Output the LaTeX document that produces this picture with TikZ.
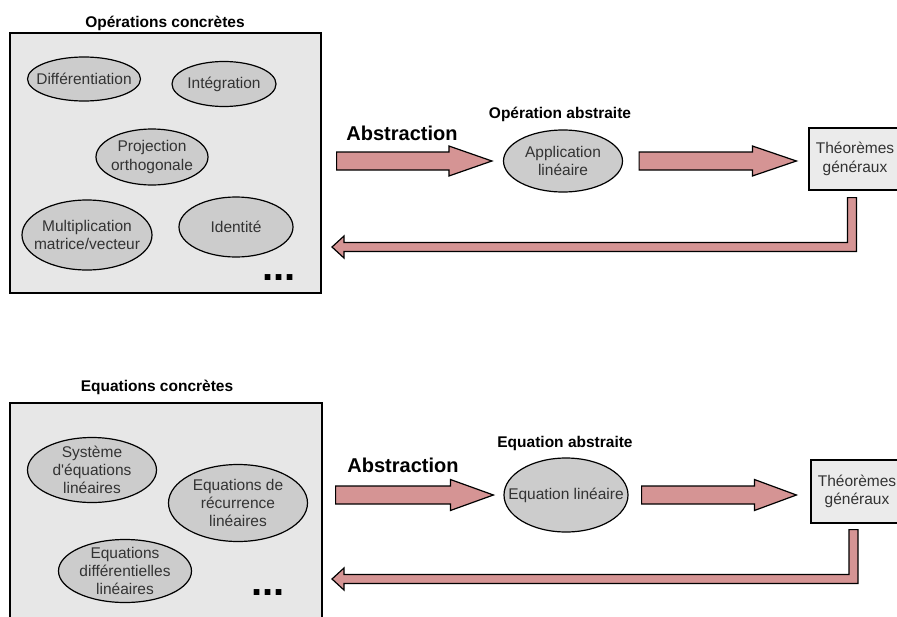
\documentclass[tikz,border=0pt]{standalone}
\usepackage{fontspec}
\setmainfont{Liberation Sans}
\usetikzlibrary{shapes.geometric,calc}

\definecolor{arrowpink}{RGB}{213,148,148}
\definecolor{panelgray}{RGB}{231,231,231}
\definecolor{ovalgray}{RGB}{204,204,204}
\definecolor{thmgray}{RGB}{235,235,235}

% straight fat arrow: start, tip, shaft half width, head half width, head length
\newcommand{\fatarrow}[5]{%
	\draw[fatline] ($(#1)+(0,#3)$) -- ($(#2)+(-#5,#3)$) -- ($(#2)+(-#5,#4)$) -- (#2)
		-- ($(#2)+(-#5,-#4)$) -- ($(#2)+(-#5,-#3)$) -- ($(#1)+(0,-#3)$) -- cycle;}
% bent return arrow: top of the vertical part, tip
\newcommand{\backarrow}[2]{%
	\draw[fatline] ($(#1)+(-4.5,0)$) -- ($(#1)+(4.5,0)$) -- ($(#1 |- #2)+(4.5,4.5)$)
		-- ($(#2)+(12,4.5)$) -- ($(#2)+(12,11)$) -- (#2) -- ($(#2)+(12,-11)$)
		-- ($(#2)+(12,-4.5)$) -- ($(#1 |- #2)+(-4.5,-4.5)$) -- cycle;}

\begin{document}
\begin{tikzpicture}[x=1pt, y=-1pt]
			\tikzstyle{panel} = [draw, line width=1.2pt, fill=panelgray, inner sep=0pt]
			\tikzstyle{oval} = [draw, ellipse, line width=1.2pt, fill=ovalgray, inner xsep=-16pt, inner ysep=-7pt, align=center, text=black!80, font=\fontsize{15.5}{18.3}\selectfont]
			\tikzstyle{thm} = [draw, line width=1.2pt, fill=thmgray, inner sep=0pt, align=center, text=black!80, font=\fontsize{15.5}{18.3}\selectfont]
			\tikzstyle{title} = [anchor=base, font=\bfseries\fontsize{15.5}{18}\selectfont]
			\tikzstyle{big} = [anchor=base, font=\bfseries\fontsize{20}{24}\selectfont]
			\tikzstyle{more} = [anchor=base, inner sep=0pt, font=\bfseries\fontsize{40}{40}\selectfont]
			\tikzstyle{fatline} = [draw, line width=1.2pt, fill=arrowpink, line join=miter]
			\useasboundingbox (0,0) rectangle (897,616);

			% operations
			\node[title] (optitle) at (165,27) {Opérations concrètes};
			\node[panel, minimum width=311, minimum height=260] (opbox) at (165.5,163) {};
			\node[oval, minimum width=113, minimum height=44] (diff) at (84,79) {Différentiation};
			\node[oval, minimum width=104, minimum height=45] (integ) at (224,84) {Intégration};
			\node[oval, minimum width=112, minimum height=56] (proj) at (152,157) {Projection\\orthogonale};
			\node[oval, minimum width=130, minimum height=70] (mult) at (87,235) {Multiplication\\matrice/vecteur};
			\node[oval, minimum width=114, minimum height=60] (ident) at (236,227) {Identité};
			\node[more] (opmore) at (279,280) {...};

			\node[big] (abs1) at (402,140) {Abstraction};
			\node[title] (apptitle) at (560,118) {Opération abstraite};
			\node[oval, minimum width=119, minimum height=62] (appl) at (563,161) {Application\\linéaire};
			\node[thm, minimum width=100, minimum height=62] (thm1) at (859,159) {\hspace*{-8pt}Théorèmes\\\hspace*{-8pt}généraux};

			\coordinate (a1s) at ($(opbox.east |- appl.center)+(15,0)$);
			\coordinate (a1t) at ($(appl.west)+(-11,0)$);
			\coordinate (a2s) at ($(appl.east)+(16,0)$);
			\coordinate (a2t) at ($(thm1.west |- appl.center)+(-12,0)$);
			\coordinate (r1top) at ($(thm1.south)+(-7,7)$);
			\coordinate (r1tip) at (332,247);
			\fatarrow{a1s}{a1t}{9}{15}{43}
			\fatarrow{a2s}{a2t}{9}{15}{44}
			\backarrow{r1top}{r1tip}

			% equations
			\node[title] (eqtitle) at (157,391) {Equations concrètes};
			\node[panel, minimum width=312, minimum height=230] (eqbox) at (166,518) {};
			\node[oval, minimum width=129, minimum height=65] (syst) at (92,470) {Système\\d\textquotesingle équations\\linéaires};
			\node[oval, minimum width=139, minimum height=77] (recur) at (238,503) {Equations de\\récurrence\\linéaires};
			\node[oval, minimum width=133, minimum height=63] (diffl) at (125,571) {Equations\\différentielles\\linéaires};
			\node[more] (eqmore) at (268,595) {...};

			\node[big] (abs2) at (403,472) {Abstraction};
			\node[title] (lintitle) at (565,447) {Equation abstraite};
			\node[oval, minimum width=124, minimum height=74] (eqlin) at (566,495) {Equation linéaire};
			\node[thm, minimum width=100, minimum height=63] (thm2) at (861,491.5) {\hspace*{-8pt}Théorèmes\\\hspace*{-8pt}généraux};

			\coordinate (b1s) at ($(eqbox.east |- eqlin.center)+(13,0)$);
			\coordinate (b1t) at ($(eqlin.west)+(-10,0)$);
			\coordinate (b2s) at ($(eqlin.east)+(13,0)$);
			\coordinate (b2t) at ($(thm2.west |- eqlin.center)+(-14,0)$);
			\coordinate (r2top) at ($(thm2.south)+(-7.5,6)$);
			\coordinate (r2tip) at (332,579);
			\fatarrow{b1s}{b1t}{9}{15.5}{43}
			\fatarrow{b2s}{b2t}{9}{15.5}{42}
			\backarrow{r2top}{r2tip}
\end{tikzpicture}
\end{document}
